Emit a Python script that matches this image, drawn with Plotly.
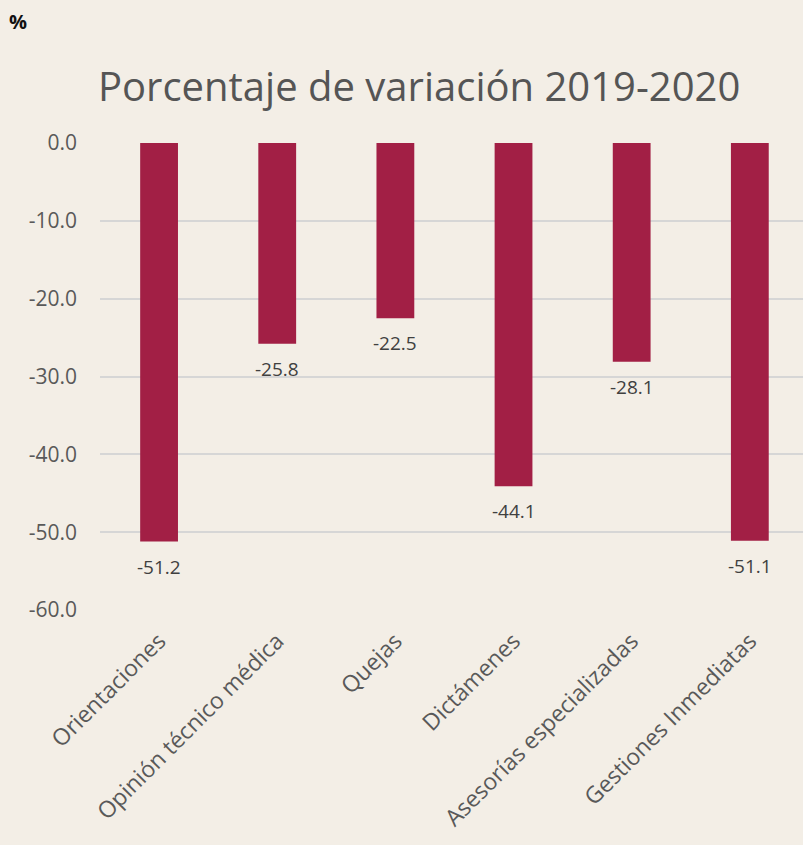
import plotly.graph_objects as go

categories = ["Orientaciones", "Opinión técnico médica", "Quejas", "Dictámenes",
              "Asesorías especializadas", "Gestiones Inmediatas"]
values = [-51.2, -25.8, -22.5, -44.1, -28.1, -51.1]
y_ticks = [0, -10, -20, -30, -40, -50, -60]
y_tick_labels = ["0.0", "-10.0", "-20.0", "-30.0", "-40.0", "-50.0", "-60.0"]

FONT = "Open Sans"

fig = go.Figure(go.Bar(
    x=categories, y=values,
    marker=dict(color="#a21f45", line=dict(width=0)),
    width=0.32,
    cliponaxis=False,
))

for c, v in zip(categories, values):
    fig.add_annotation(x=c, y=v, text=f"{v:.1f}", showarrow=False,
                       xanchor="center", yanchor="top", yshift=-10,
                       font=dict(family=FONT, size=19, color="#404040"))

fig.update_layout(
    width=803, height=845,
    margin=dict(l=100, r=0, t=143, b=235),
    paper_bgcolor="#f3eee6",
    plot_bgcolor="rgba(0,0,0,0)",
    showlegend=False,
    title=dict(text="Porcentaje de variación 2019-2020", x=0.522, xanchor="center",
               y=0.897, yanchor="middle", automargin=False,
               font=dict(family=FONT, size=40, color="#555555")),
    font=dict(family=FONT),
)
fig.add_annotation(text="<b>%</b>", xref="paper", yref="paper", x=-0.117, y=1.261,
                   xanchor="center", yanchor="middle", showarrow=False,
                   font=dict(family=FONT, size=20, color="#111111"))

fig.update_yaxes(range=[-60, 0], tickvals=y_ticks, ticktext=y_tick_labels,
                 showgrid=True, gridcolor="#d6d6d6", gridwidth=2, zeroline=False,
                 showline=False, ticks="", ticklabelstandoff=22, automargin=False,
                 tickfont=dict(family=FONT, size=21, color="#595959"))
fig.update_xaxes(range=[-0.5, 5.45], tickangle=-45, showline=False, ticks="",
                 showgrid=False, ticklabelstandoff=12, automargin=False,
                 tickfont=dict(family=FONT, size=23, color="#595959"))

fig.write_html("out.html", config={"displayModeBar": False},
               post_script="document.body.style.margin='0';document.body.style.padding='0';")
